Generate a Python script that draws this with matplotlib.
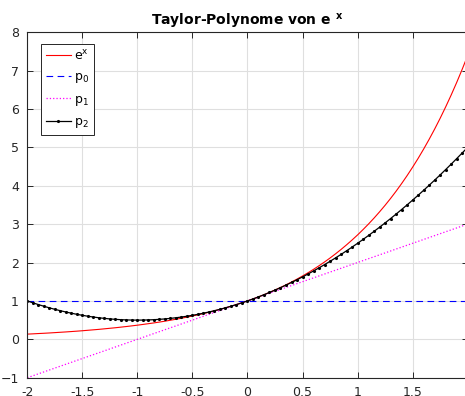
import numpy as np
import matplotlib.pyplot as plt

# sample points (step 0.05)
x = [-2.00, -1.95, -1.90, -1.85, -1.80, -1.75, -1.70, -1.65, -1.60, -1.55,
     -1.50, -1.45, -1.40, -1.35, -1.30, -1.25, -1.20, -1.15, -1.10, -1.05,
     -1.00, -0.95, -0.90, -0.85, -0.80, -0.75, -0.70, -0.65, -0.60, -0.55,
     -0.50, -0.45, -0.40, -0.35, -0.30, -0.25, -0.20, -0.15, -0.10, -0.05,
     0.00, 0.05, 0.10, 0.15, 0.20, 0.25, 0.30, 0.35, 0.40, 0.45,
     0.50, 0.55, 0.60, 0.65, 0.70, 0.75, 0.80, 0.85, 0.90, 0.95,
     1.00, 1.05, 1.10, 1.15, 1.20, 1.25, 1.30, 1.35, 1.40, 1.45,
     1.50, 1.55, 1.60, 1.65, 1.70, 1.75, 1.80, 1.85, 1.90, 1.95, 2.00]

exp_vals = [0.135, 0.142, 0.150, 0.157, 0.165, 0.174, 0.183, 0.192, 0.202, 0.212,
            0.223, 0.235, 0.247, 0.259, 0.273, 0.287, 0.301, 0.317, 0.333, 0.350,
            0.368, 0.387, 0.407, 0.427, 0.449, 0.472, 0.497, 0.522, 0.549, 0.577,
            0.607, 0.638, 0.670, 0.705, 0.741, 0.779, 0.819, 0.861, 0.905, 0.951,
            1.000, 1.051, 1.105, 1.162, 1.221, 1.284, 1.350, 1.419, 1.492, 1.568,
            1.649, 1.733, 1.822, 1.916, 2.014, 2.117, 2.226, 2.340, 2.460, 2.586,
            2.718, 2.858, 3.004, 3.158, 3.320, 3.490, 3.669, 3.857, 4.055, 4.263,
            4.482, 4.711, 4.953, 5.207, 5.474, 5.755, 6.050, 6.360, 6.686, 7.029, 7.389]

p2_vals = [1.000, 0.951, 0.905, 0.861, 0.820, 0.781, 0.745, 0.711, 0.680, 0.651,
           0.625, 0.601, 0.580, 0.561, 0.545, 0.531, 0.520, 0.511, 0.505, 0.501,
           0.500, 0.501, 0.505, 0.511, 0.520, 0.531, 0.545, 0.561, 0.580, 0.601,
           0.625, 0.651, 0.680, 0.711, 0.745, 0.781, 0.820, 0.861, 0.905, 0.951,
           1.000, 1.051, 1.105, 1.161, 1.220, 1.281, 1.345, 1.411, 1.480, 1.551,
           1.625, 1.701, 1.780, 1.861, 1.945, 2.031, 2.120, 2.211, 2.305, 2.401,
           2.500, 2.601, 2.705, 2.811, 2.920, 3.031, 3.145, 3.261, 3.380, 3.501,
           3.625, 3.751, 3.880, 4.011, 4.145, 4.281, 4.420, 4.561, 4.705, 4.851, 5.000]

line_x = [-2.0, 2.0]
p0_vals = [1.0, 1.0]
p1_vals = [-1.0, 3.0]

xticks = [-2, -1.5, -1, -0.5, 0, 0.5, 1, 1.5, 2]
xticklabels = ["-2", "-1.5", "-1", "-0.5", "0", "0.5", "1", "1.5", "2"]
yticks = [-1, 0, 1, 2, 3, 4, 5, 6, 7, 8]

fig = plt.figure(figsize=(4.65, 3.96), dpi=100)
ax = fig.add_axes([0.0587, 0.0462, 0.947, 0.8727])

ax.plot(x, exp_vals, "-", color="#ff0000", lw=0.8, label=r"e$^{\mathregular{x}}$")
ax.plot(line_x, p0_vals, "--", color="#0000ff", lw=0.8, dashes=(6, 4), label=r"p$_{\mathregular{0}}$")
ax.plot(line_x, p1_vals, ":", color="#ff00ff", lw=0.9, label=r"p$_{\mathregular{1}}$")
ax.plot(x, p2_vals, ".-", color="black", lw=0.9, markersize=2.5, label=r"p$_{\mathregular{2}}$")

ax.set_xlim(-2, 2)
ax.set_ylim(-1, 8)
ax.set_xticks(xticks)
ax.set_xticklabels(xticklabels)
ax.set_yticks(yticks)
ax.grid(True, color="#dfdfdf", lw=0.8)
ax.set_axisbelow(True)
ax.tick_params(direction="in", top=True, right=True, length=4, width=0.7,
               labelsize=9, colors="#262626", pad=6)
for s in ax.spines.values():
    s.set_color("#262626")
    s.set_linewidth(0.8)

ax.set_title(r"Taylor-Polynome von e $^{\mathbf{x}}$", fontsize=10, fontweight="bold", pad=5)

leg = ax.legend(loc="upper left", bbox_to_anchor=(0.03, 0.966), borderaxespad=0,
                fontsize=9, handlelength=2.0, borderpad=0.4, labelspacing=0.6,
                handletextpad=0.3, fancybox=False, framealpha=1, edgecolor="#262626")
leg.get_frame().set_linewidth(0.7)

fig.savefig("out.png", dpi=100)
